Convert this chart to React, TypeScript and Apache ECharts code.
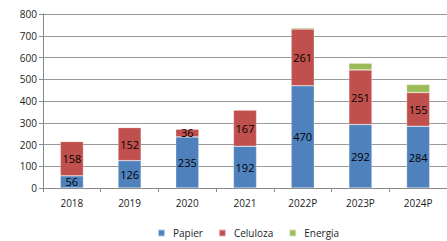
import React, { useEffect, useRef } from "react";
import * as echarts from "echarts";

const categories = ["2018", "2019", "2020", "2021", "2022P", "2023P", "2024P"];
const papier = [56, 126, 235, 192, 470, 292, 284];
const celuloza = [158, 152, 36, 167, 261, 251, 155];
const energia = [0, 0, 0, 0, 6, 31, 37];
const seriesNames = ["Papier", "Celuloza", "Energia"];
const colors = ["#4F81BD", "#C0504D", "#9BBB59"];

export default function App() {
  const ref = useRef<HTMLDivElement>(null);
  useEffect(() => {
    if (!ref.current) return;
    const chart = echarts.init(ref.current, null, { renderer: "svg" });
    const font = "'Open Sans', 'Liberation Sans', sans-serif";
    const label = {
      show: true,
      position: "inside",
      color: "#000",
      fontSize: 11,
      fontFamily: font,
    };
    const datas = [papier, celuloza, energia];
    chart.setOption({
      animation: false,
      color: colors,
      grid: { left: 43, right: -2, top: 14, bottom: 53 },
      legend: {
        top: 228,
        left: 157,
        padding: 0,
        itemWidth: 7,
        itemHeight: 7,
        itemGap: 15,
        icon: "rect",
        textStyle: { fontSize: 10, fontFamily: font, color: "#222", padding: [0, 0, 0, 3] },
        data: seriesNames,
      },
      xAxis: {
        type: "category",
        data: categories,
        axisLine: { lineStyle: { color: "#888" } },
        axisTick: { show: true, length: 4, lineStyle: { color: "#888" } },
        axisLabel: { fontSize: 10, fontFamily: font, color: "#222", margin: 10 },
      },
      yAxis: {
        type: "value",
        min: 0,
        max: 800,
        interval: 100,
        axisLine: { show: true, lineStyle: { color: "#888" } },
        axisTick: { show: true, length: 4, lineStyle: { color: "#888" } },
        axisLabel: { fontSize: 10, fontFamily: font, color: "#222", margin: 6 },
        splitLine: { lineStyle: { color: "#999", width: 1 } },
      },
      series: seriesNames.map((name, i) => ({
        name,
        type: "bar",
        stack: "total",
        barWidth: "40%",
        data: datas[i],
        itemStyle: { borderColor: "rgba(255,255,255,0.6)", borderWidth: 0.5 },
        label: i < 2 ? label : { show: false },
      })),
    });
    return () => chart.dispose();
  }, []);
  return (
    <div
      ref={ref}
      style={{ position: "absolute", left: 0, top: 0, width: 447, height: 241 }}
    />
  );
}
